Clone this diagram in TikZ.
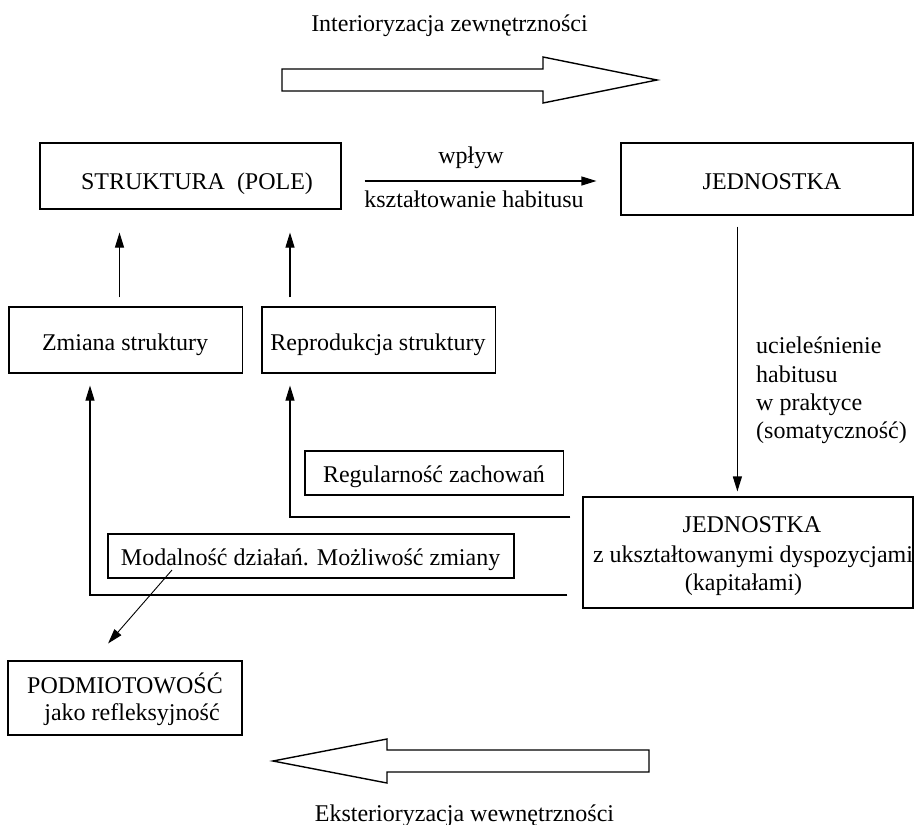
\documentclass[tikz,border=0pt]{standalone}
\usepackage{fontspec}
\setmainfont{Liberation Serif}
\usetikzlibrary{arrows.meta}
\begin{document}
\begin{tikzpicture}[x=1pt,y=-1pt,
  box/.style={draw,line width=1.1pt,inner sep=0pt,minimum width=#1},
  txt/.style={inner sep=0pt,anchor=base,font=\fontsize{24}{28.5}\selectfont},
  arr/.style={line width=1.1pt,-{Triangle[length=15pt,width=9pt]}},
  ln/.style={line width=1.1pt},
  big/.style={draw,line width=1.4pt,line join=miter}]
\useasboundingbox (0,0) rectangle (914,825);
% boxes
\node[box=301pt,minimum height=66pt] (s) at (190.5,176) {};
\node[box=292pt,minimum height=72pt] (j1) at (767,179) {};
\node[box=233.5pt,minimum height=66pt] (zm) at (125.75,340) {};
\node[box=233.5pt,minimum height=66pt] (rp) at (378.75,340) {};
\node[box=258.7pt,minimum height=44pt] (rg) at (434.35,473) {};
\node[box=330pt,minimum height=111pt] (j2) at (748,552.5) {};
\node[box=406pt,minimum height=44pt] (md) at (311,556) {};
\node[box=234pt,minimum height=74pt] (pd) at (125,698) {};
% texts
\node[txt] (t0) at (449.5,31.7) {Interioryzacja zewnętrzności};
\node[txt] (t1) at (464.5,821) {Eksterioryzacja wewnętrzności};
\node[txt] (ts) at (197,189) {STRUKTURA\ \ (POLE)};
\node[txt] (tj1) at (772,189) {JEDNOSTKA};
\node[txt] (tw) at (471,163) {wpływ};
\node[txt] (tk) at (474,207) {kształtowanie habitusu};
\node[txt] (tzm) at (125,350) {Zmiana struktury};
\node[txt] (trp) at (378,350) {Reprodukcja struktury};
\node[txt,anchor=base west] (tu1) at (756,353) {ucieleśnienie};
\node[txt,anchor=base west] (tu2) at (756,382) {habitusu};
\node[txt,anchor=base west] (tu3) at (756,410) {w praktyce};
\node[txt,anchor=base west] (tu4) at (756,438) {(somatyczność)};
\node[txt] (trg) at (434,482) {Regularność zachowań};
\node[txt] (tj2a) at (752,532) {JEDNOSTKA};
\node[txt] (tj2b) at (753,562) {z ukształtowanymi dyspozycjami};
\node[txt] (tj2c) at (743.5,590) {(kapitałami)};
\node[txt] (tmd) at (310.6,565) {Modalność działań. Możliwość zmiany};
\node[txt] (tpd1) at (125,693) {PODMIOTOWOŚĆ};
\node[txt] (tpd2) at (132,720) {jako refleksyjność};
% helper coordinates
\coordinate (xa) at (119.5,0);
\coordinate (xb) at (290,0);
\coordinate (ya) at (0,181);
\coordinate (xc) at (737.4,0);
\coordinate (yb) at (0,517);
\coordinate (yc) at (0,595);
\coordinate (xd) at (90,0);
\coordinate (m0) at (172,570);
\coordinate (xe) at (93.3,0);
% connectors
\draw[arr,shorten <=9pt,shorten >=23pt] (zm.north -| xa) -- (s.south -| xa);
\draw[arr,shorten <=9pt,shorten >=23pt] (rp.north -| xb) -- (s.south -| xb);
\draw[arr,shorten <=23pt,shorten >=24pt] (s.east |- ya) -- (j1.west |- ya);
\draw[arr,shorten <=11pt,shorten >=5pt] (j1.south -| xc) -- (j2.north -| xc);
\draw[arr,shorten <=12pt,shorten >=12pt] (j2.west |- yb) -| (rp.south -| xb);
\draw[arr,shorten <=15pt,shorten >=12pt] (j2.west |- yc) -| (zm.south -| xd);
\draw[arr,line width=0.9pt,shorten >=22.5pt] (m0) -- (pd.north -| xe);
% big arrows
\draw[big] (282,69) -- (543,69) -- (543,57) -- (657,80) -- (543,103) -- (543,91) -- (282,91) -- cycle;
\draw[big] (649,750) -- (387,750) -- (387,739) -- (273,761) -- (387,783) -- (387,772) -- (649,772) -- cycle;
\end{tikzpicture}
\end{document}
